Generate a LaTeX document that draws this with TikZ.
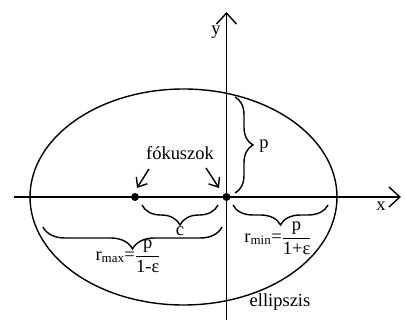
\documentclass[tikz,border=0pt]{standalone}
\usepackage{amsmath}
\usepackage{fontspec}
\setmainfont{Liberation Serif}
\usetikzlibrary{arrows.meta,decorations.pathreplacing}

\begin{document}
\begin{tikzpicture}[x=1pt,y=-1pt,line width=1.4pt,
  font=\fontsize{18.5}{20}\selectfont,
  axis/.style={-{Straight Barb[length=11pt,width=20pt]}},
  pointer/.style={-{Straight Barb[length=8pt,width=13pt]}},
  curly/.style={decorate,decoration={brace,amplitude=#1}}]
  \useasboundingbox (0,0) rectangle (405,320);
  % Ellipse
  \draw (183.5,197) ellipse [x radius=153.5, y radius=108];
  \node (ell) at (280,302) {ellipszis};
  % Axes
  \coordinate (xstart) at (14,197);
  \coordinate (xend) at (401,197);
  \coordinate (ystart) at (226.5,322);
  \coordinate (yend) at (226.5,12);
  \draw[axis] (xstart) -- (xend);
  \draw[axis] (ystart) -- (yend);
  \node (xlab) at (381,206) {x};
  \node (ylab) at (216,32) {y};
  % Foci
  \coordinate (F1) at (135,197);
  \coordinate (F2) at (226.5,197);
  \foreach \f in {F1,F2}{
    \fill (\f) circle (4pt);
  }
  \node (fok) at (180,153) {fókuszok};
  \coordinate (a1) at (149,169);
  \coordinate (b1) at (137,188);
  \coordinate (a2) at (206,168);
  \coordinate (b2) at (219,188);
  \draw[pointer] (a1) -- (b1);
  \draw[pointer] (a2) -- (b2);
  % Braces
  \draw[curly=18pt] (235,97) -- (235,193);
  \node (plab) at (264,146) {p};
  \draw[curly=20pt] (218,205) -- (142,205);
  \node (clab) at (180,231) {c};
  \draw[curly=20pt] (328,205) -- (233,205);
  \node (rmin) at (278,238) {r$_{\text{min}}$=$\dfrac{\text{p}}{\text{1+ε}}$};
  \draw[curly=22pt] (222,227) -- (43,227);
  \node (rmax) at (128,256) {r$_{\text{max}}$=$\dfrac{\text{p}}{\text{1-ε}}$};
\end{tikzpicture}
\end{document}
